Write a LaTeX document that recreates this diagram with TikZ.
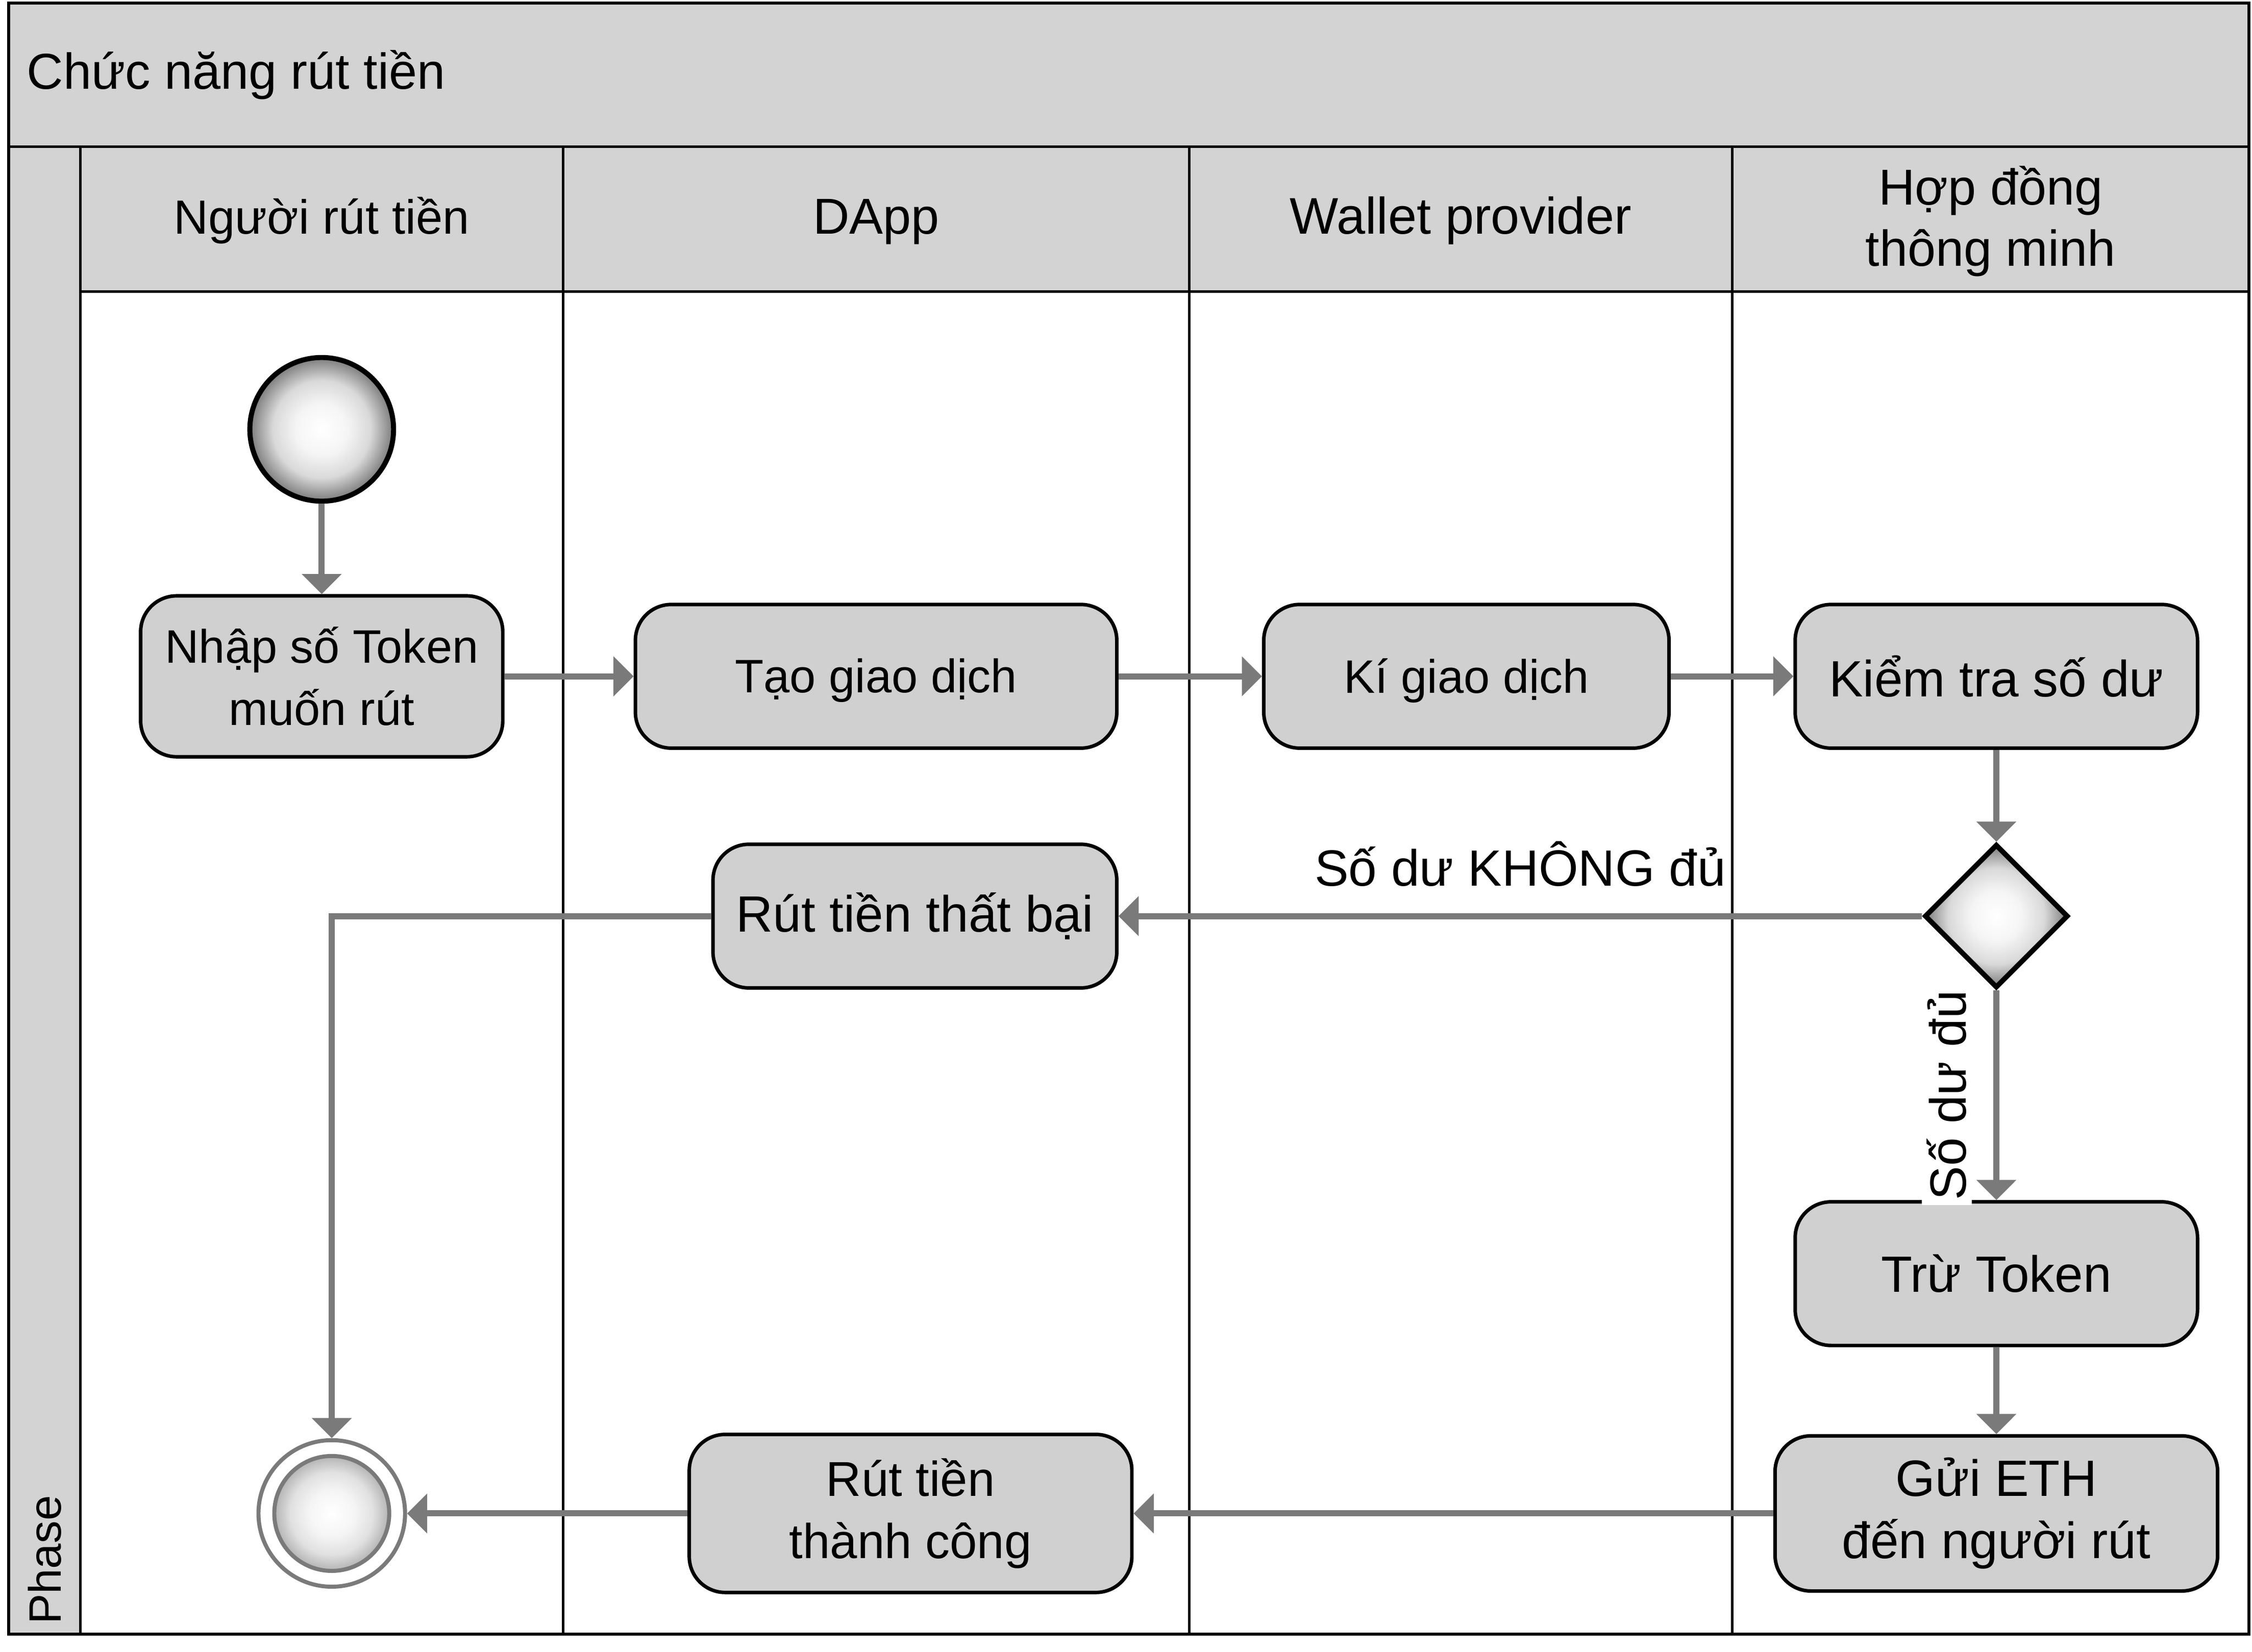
\documentclass[tikz,border=0pt]{standalone}
\usepackage{fontspec}
\setmainfont{Liberation Sans}
\usetikzlibrary{arrows.meta, shapes.geometric}
\definecolor{lanegray}{HTML}{D3D3D3}
\definecolor{boxgray}{HTML}{D0D0D0}
\definecolor{flowgray}{HTML}{7A7A7A}
\pgfdeclareradialshading{ballshade}{\pgfpoint{0bp}{0bp}}{color(0bp)=(white); color(9bp)=(white!96!black); color(17bp)=(white!85!black); color(25bp)=(white!48!black); color(50bp)=(white!48!black)}
\pgfdeclareradialshading{coreshade}{\pgfpoint{0bp}{0bp}}{color(0bp)=(white); color(10bp)=(white!96!black); color(18bp)=(white!88!black); color(25bp)=(white!70!black); color(50bp)=(white!70!black)}

\begin{document}
\begin{tikzpicture}[x=0.01cm, y=-0.01cm,
		  % Define the style of the activity boxes
		  activity/.style={rectangle, rounded corners=0.25cm, draw=black, line width=0.7pt, fill=boxgray, align=center, inner sep=1pt},
		  % Define the text sizes
		  smalltext/.style={font=\fontsize{9.3}{12.3}\selectfont},
		  midtext/.style={font=\fontsize{9.7}{12.3}\selectfont},
		  bigtext/.style={font=\fontsize{10.1}{12.3}\selectfont},
		  % Define the style of the start, end and decision nodes
		  startnode/.style={circle, minimum size=1cm, inner sep=0, draw=black, line width=1pt, shading=ballshade},
		  endring/.style={circle, minimum size=1.02cm, inner sep=0, draw=flowgray, line width=0.8pt, fill=white},
		  endcore/.style={circle, minimum size=0.8cm, inner sep=0, draw=flowgray, line width=0.8pt, shading=coreshade},
		  decision/.style={diamond, aspect=1, minimum width=1cm, minimum height=1cm, inner sep=0, draw=black, line width=1pt, shading=ballshade},
		  % Define the style of the arrow between nodes
		  flow/.style={draw=flowgray, line width=1.2pt, -{Triangle[width=0.27cm, length=0.14cm]}},
		  % Define the style of the lanes
		  lane/.style={draw=black, line width=0.5pt},
		  lanehead/.style={align=center, inner sep=0}
		  ]
		  \useasboundingbox (0,0) rectangle (1568,1150.5);

		  % Pool, lane headers and lanes
		  \fill[lanegray] (6,2) rectangle (1566,102);
		  \fill[lanegray] (6,102) rectangle (56,1138);
		  \fill[lanegray] (56,102) rectangle (1566,203);
		  \foreach \x in {56, 392, 828, 1206} {
		    \draw[lane] (\x,102) -- (\x,1138);
		  }
		  \draw[lane] (6,102) -- (1566,102);
		  \draw[lane] (56,203) -- (1566,203);
		  \draw[lane, line width=0.6pt] (6,2) rectangle (1566,1138);

		  \node[anchor=base west, inner sep=0, font=\fontsize{10}{12}\selectfont] (pool) at (18,62) {Chức năng rút tiền};
		  \node[rotate=90, anchor=west, inner sep=0, font=\fontsize{9}{11}\selectfont] (phase) at (31,1132) {Phase};
		  \foreach \x/\name/\size/\txt in {224/user/9.5/Người rút tiền, 610/dapp/10/DApp, 1017/wallet/10.2/Wallet provider} {
		    \node[lanehead, anchor=base, font=\fontsize{\size}{12}\selectfont] (head-\name) at (\x,163) {\txt};
		  }
		  \node[lanehead, font=\fontsize{10}{12.1}\selectfont] (head-contract) at (1386,154) {Hợp đồng\\thông minh};

		  % Activities
		  \node[startnode] (start) at (224,299) {};
		  \node[activity, smalltext, minimum width=2.52cm, minimum height=1.12cm] (input) at (224,471) {Nhập số Token\\muốn rút};
		  \node[activity, smalltext, minimum width=3.35cm, minimum height=1cm] (create) at (610,471) {\raisebox{-0.03cm}[\height][\depth]{Tạo giao dịch}};
		  \node[activity, smalltext, minimum width=2.82cm, minimum height=1cm] (sign) at (1021,471) {\raisebox{-0.03cm}[\height][\depth]{Kí giao dịch}};
		  \node[activity, bigtext, minimum width=2.8cm, minimum height=1cm] (check) at (1390,471) {Kiểm tra số dư};
		  \node[decision] (balance) at (1390,638) {};
		  \node[activity, bigtext, minimum width=2.81cm, minimum height=1cm] (fail) at (637,638) {Rút tiền thất bại};
		  \node[activity, bigtext, minimum width=2.8cm, minimum height=1cm] (deduct) at (1390,887) {Trừ Token};
		  \node[activity, bigtext, minimum width=3.08cm, minimum height=1.08cm] (send) at (1390,1054) {Gửi ETH\\đến người rút};
		  \node[activity, midtext, minimum width=3.08cm, minimum height=1.1cm] (success) at (634,1054) {Rút tiền\\thành công};
		  \node[endring] (end) at (231,1054) {};
		  \node[endcore] (endcore) at (end) {};

		  % Connect the nodes
		  \draw[flow] (start) -- (input);
		  \draw[flow] (input) -- (create);
		  \draw[flow] (create) -- (sign);
		  \draw[flow] (sign) -- (check);
		  \draw[flow] (check) -- (balance);
		  \draw[flow] (balance) -- (fail) node[midway, above=0.07cm, bigtext] {Số dư KHÔNG đủ};
		  \draw[flow] (balance) -- (deduct) node[midway, rotate=90, anchor=south, yshift=0.15cm, fill=white, inner sep=1pt, bigtext] {Số dư đủ};
		  \draw[flow] (deduct) -- (send);
		  \draw[flow] (send) -- (success);
		  \draw[flow] (success) -- (end);
		  \draw[flow] (fail.west) -| (end.north);
		\end{tikzpicture}
\end{document}
